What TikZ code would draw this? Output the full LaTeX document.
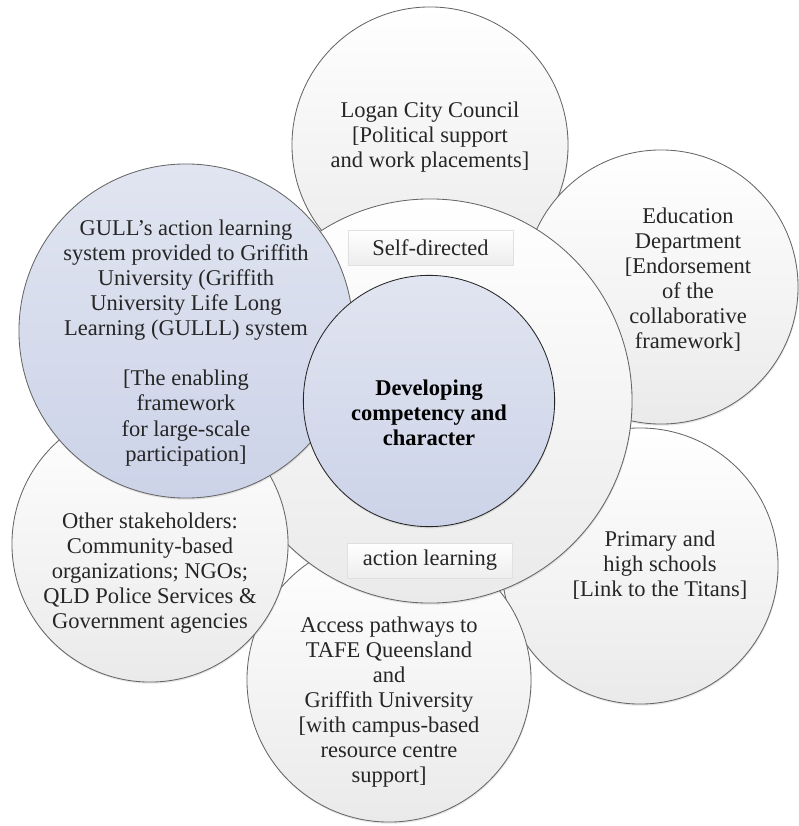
\documentclass[tikz,border=0pt]{standalone}
\usepackage{fontspec}
\setmainfont{Liberation Serif}
\usepackage{xcolor}
\usepackage{tikz}
\usetikzlibrary{shadows}
\definecolor{ringgray}{RGB}{234,234,234}
\definecolor{bluetop}{RGB}{225,229,241}
\definecolor{bluebot}{RGB}{204,211,232}
\tikzstyle{partner} = [circle, minimum size=6.9cm, inner sep=0pt, draw=black!60, line width=0.6pt, top color=white, bottom color=ringgray, drop shadow={shadow xshift=0.4pt, shadow yshift=-1.2pt, opacity=0.2}]
\tikzstyle{gullcirc} = [partner, minimum size=8.35cm, top color=bluetop, bottom color=bluebot]
\tikzstyle{ringcirc} = [partner, minimum size=10.1cm]
\tikzstyle{corecirc} = [partner, minimum size=6.28cm, draw=black!85, top color=bluetop, bottom color=bluebot]
\tikzstyle{circtext} = [align=center, inner sep=0pt, text=black!85, font=\fontsize{16}{17.8}\selectfont]
\tikzstyle{tag} = [rectangle, minimum width=4.13cm, minimum height=0.87cm, draw=black!12, top color=white, bottom color=black!7, text=black!85, font=\fontsize{16}{17.8}\selectfont, drop shadow={shadow xshift=0.6pt, shadow yshift=-0.6pt, opacity=0.12}]

\begin{document}
\begin{tikzpicture}[x=0.025cm, y=-0.025cm]
        \useasboundingbox (0,0) rectangle (798,826);

        % Partners behind the ring
        \node (logan) [partner] at (430,145) {};
        \node (edu) [partner, minimum size=6.85cm] at (661,287) {};
        \node (schools) [partner] at (640,566) {};
        \node (access) [partner, minimum size=7.1cm] at (389,680) {};

        % Action learning ring
        \node (ring) [ringcirc] at (430,401) {};

        % Partners in front of the ring
        \node (others) [partner] at (150,544) {};
        \node (gull) [gullcirc] at (186,331) {};

        % Centre
        \node (core) [corecirc] at (429,401) {};

        % Ring labels
        \node (selfdir) [tag] at (430.5,247.5) {Self-directed};
        \node (actlearn) [tag] at (430,560.5) {action learning};

        % Texts
        \node (logantxt) [circtext] at ([shift={(0,-8)}]logan.center) {Logan City Council\\{}[Political support\\ and work placements]};
        \node (edutxt) [circtext] at ([shift={(27,-7)}]edu.center) {Education\\ Department\\{}[Endorsement\\ of the\\ collaborative\\ framework]};
        \node (schoolstxt) [circtext] at ([shift={(20,-1)}]schools.center) {Primary and\\ high schools\\{}[Link to the Titans]};
        \node (accesstxt) [circtext] at ([shift={(0,22)}]access.center) {Access pathways to\\ TAFE Queensland\\ and\\ Griffith University\\{}[with campus-based\\ resource centre\\ support]};
        \node (otherstxt) [circtext] at ([shift={(0,29)}]others.center) {Other stakeholders:\\ Community-based\\ organizations; NGOs;\\ QLD Police Services \&\\ Government agencies};
        \node (gulltxt) [circtext] at ([shift={(0,12)}]gull.center) {GULL’s action learning\\ system provided to Griffith\\ University (Griffith\\ University Life Long\\ Learning (GULLL) system\\[17.8pt]{}[The enabling\\ framework\\ for large-scale\\ participation]};
        \node (coretxt) [circtext, font=\fontsize{16}{17.8}\selectfont\bfseries, text=black] at ([shift={(0,12)}]core.center) {Developing\\ competency and\\ character};
      \end{tikzpicture}
\end{document}
